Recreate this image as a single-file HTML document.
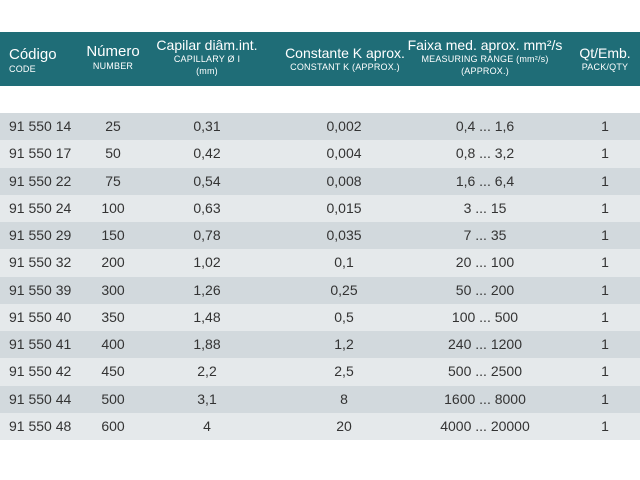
<!DOCTYPE html>
<html><head><meta charset="utf-8"><style>
body{margin:0;width:640px;height:480px;background:#fff;font-family:"Liberation Sans","DejaVu Sans",sans-serif;position:relative;overflow:hidden;color:#333}
.hdr{position:absolute;left:0;top:32px;width:640px;height:54px;background:#1f6d77;color:#fff}
.h{position:absolute;text-align:center;transform:translateX(-50%);white-space:nowrap;line-height:1}
.h b{font-weight:normal;font-size:14px;display:block}
.h s{text-decoration:none;font-size:9px;display:block;margin-top:3px;letter-spacing:.2px}
.row{position:absolute;left:0;width:640px;height:27.25px;font-size:14px;line-height:27px}
.row span{position:absolute;white-space:nowrap;transform:translateX(-50%)}
.row span.c{transform:none;left:9px}
</style></head><body>
<div class="hdr">
<div class="h" style="left:9px;transform:none;text-align:left;top:15px"><b style="font-size:15px">Código</b><s>CODE</s></div>
<div class="h" style="left:113px;top:12px"><b style="font-size:15px">Número</b><s>NUMBER</s></div>
<div class="h" style="left:207px;top:6px"><b>Capilar diâm.int.</b><s>CAPILLARY Ø I</s><s>(mm)</s></div>
<div class="h" style="left:345px;top:14px"><b>Constante K aprox.</b><s>CONSTANT K (APPROX.)</s></div>
<div class="h" style="left:485px;top:6px"><b>Faixa med. aprox. mm²/s</b><s>MEASURING RANGE (mm²/s)</s><s>(APPROX.)</s></div>
<div class="h" style="left:605px;top:14px"><b>Qt/Emb.</b><s>PACK/QTY</s></div>
</div>
<div id="rows"></div>
<script>
var d=[["91 550 14","25","0,31","0,002","0,4 ... 1,6"],["91 550 17","50","0,42","0,004","0,8 ... 3,2"],["91 550 22","75","0,54","0,008","1,6 ... 6,4"],["91 550 24","100","0,63","0,015","3 ... 15"],["91 550 29","150","0,78","0,035","7 ... 35"],["91 550 32","200","1,02","0,1","20 ... 100"],["91 550 39","300","1,26","0,25","50 ... 200"],["91 550 40","350","1,48","0,5","100 ... 500"],["91 550 41","400","1,88","1,2","240 ... 1200"],["91 550 42","450","2,2","2,5","500 ... 2500"],["91 550 44","500","3,1","8","1600 ... 8000"],["91 550 48","600","4","20","4000 ... 20000"]];
var h="";d.forEach(function(r,i){h+='<div class="row" style="top:'+(113+i*27.25)+'px;background:'+(i%2?'#e5e9eb':'#d2d9dd')+'"><span class="c">'+r[0]+'</span><span style="left:113px">'+r[1]+'</span><span style="left:207px">'+r[2]+'</span><span style="left:344px">'+r[3]+'</span><span style="left:485px">'+r[4]+'</span><span style="left:605px">1</span></div>'});
document.getElementById("rows").innerHTML=h;
</script>
</body></html>
